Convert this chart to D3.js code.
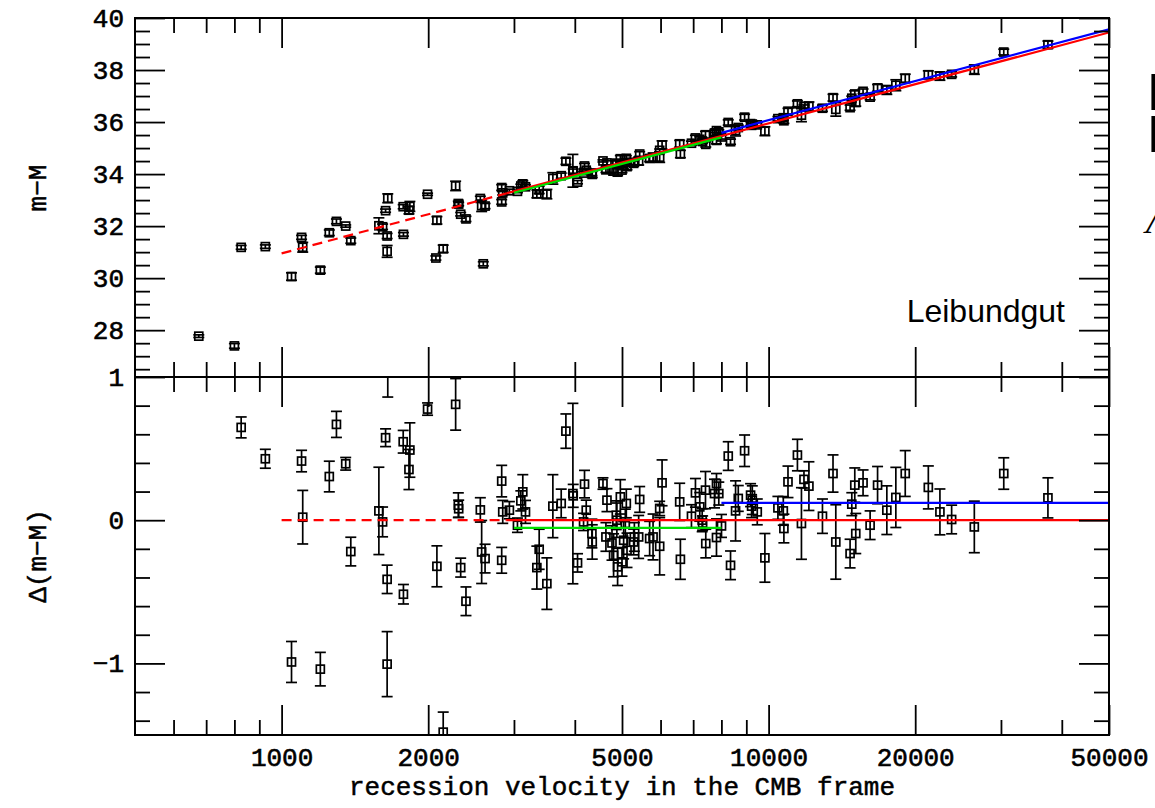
<!DOCTYPE html>
<html>
<head>
<meta charset="utf-8">
<script src="https://cdn.jsdelivr.net/npm/d3@7"></script>
<style>
body { margin: 0; background: #fff; }
</style>
</head>
<body>
<svg id="chart"></svg>
<script>
// recession velocity of each supernova (CMB frame)
var velocity = [
  676, 800, 826, 926, 1048, 1099, 1105, 1201, 1253, 1296,
  1354, 1387, 1584, 1612, 1635, 1647, 1647, 1652, 1777, 1779,
  1826, 1834, 1994, 2074, 2084, 2147, 2277, 2306, 2310, 2332,
  2391, 2559, 2575, 2595, 2617, 2831, 2831, 2845, 2936, 3050,
  3099, 3128, 3168, 3343, 3380, 3505, 3606, 3751, 3835, 3964,
  3970, 4052, 4169, 4188, 4222, 4337, 4344, 4570, 4634, 4657,
  4769, 4805, 4867, 4880, 4897, 4961, 5000, 5039, 5079, 5103,
  5120, 5283, 5301, 5410, 5436, 5698, 5791, 5975, 5975, 6043,
  6568, 6590, 6944, 7076, 7222, 7305, 7320, 7420, 7430, 7743,
  7816, 7816, 7902, 8004, 8263, 8353, 8554, 8664, 8927, 9183,
  9227, 9258, 9478, 9826, 10450, 10720, 10750, 10960, 11460, 11680,
  11820, 12100, 12900, 13560, 13740, 14700, 14820, 15030, 15100, 15630,
  16160, 16740, 17490, 18250, 19080, 21280, 22480, 23760, 26450, 30400,
  37460
];
// residual from the red hubble line, delta(m-M)
var residual = [
  -2.33, -3.07, 0.648, 0.429, -0.99, 0.413, 0.021, -1.04, 0.305, 0.669,
  0.394, -0.219, 0.065, -0.012, 0.576, -0.413, -1.005, 1.03, 0.548, -0.517,
  0.354, 0.49, 0.776, -1.76, -0.322, -1.48, 0.809, 0.105, 0.08, -0.331,
  -0.566, 0.072, -0.222, -2.47, -0.268, 0.273, -0.28, 0.058, 0.07, -0.035,
  0.135, 0.198, 0.058, -0.331, -0.203, -0.443, 0.098, 0.117, 0.622, 0.186,
  0.17, -0.298, -0.012, 0.252, 0.07, -0.093, -0.152, 0.256, -0.117, 0.14,
  -0.159, -0.245, 0.035, 0.0, -0.326, 0.163, -0.291, -0.14, -0.023, 0.117,
  -0.21, -0.152, -0.117, -0.117, 0.145, -0.128, -0.117, -0.182, 0.082, 0.261,
  0.128, -0.273, 0.028, 0.191, 0.093, 0.0, -0.02, 0.21, -0.163, 0.186,
  0.256, -0.121, 0.186, -0.04, 0.448, -0.315, 0.065, 0.152, 0.485, 0.175,
  0.098, 0.14, 0.058, -0.263, 0.086, 0.065, -0.058, 0.268, 0.455, -0.023,
  0.285, 0.238, 0.028, 0.326, -0.152, -0.233, 0.112, 0.245, -0.093, 0.261,
  -0.035, 0.245, 0.07, 0.159, 0.326, 0.229, 0.058, 0.005, -0.047, 0.326,
  0.156
];
// one sigma error in magnitudes
var residualErr = [
  0.05, 0.09, 0.073, 0.066, 0.143, 0.075, 0.187, 0.117, 0.107, 0.091,
  0.044, 0.10, 0.305, 0.104, 0.062, 0.099, 0.227, 0.17, 0.079, 0.068,
  0.14, 0.19, 0.043, 0.08, 0.143, 0.14, 0.18, 0.086, 0.06, 0.066,
  0.10, 0.085, 0.22, 0.08, 0.10, 0.11, 0.09, 0.08, 0.06, 0.05,
  0.07, 0.12, 0.08, 0.15, 0.14, 0.18, 0.22, 0.10, 0.12, 0.63,
  0.08, 0.064, 0.06, 0.096, 0.07, 0.10, 0.12, 0.04, 0.10, 0.08,
  0.12, 0.15, 0.10, 0.12, 0.13, 0.12, 0.10, 0.13, 0.10, 0.10,
  0.12, 0.09, 0.10, 0.15, 0.09, 0.12, 0.16, 0.20, 0.05, 0.16,
  0.13, 0.14, 0.08, 0.10, 0.10, 0.08, 0.05, 0.13, 0.10, 0.10,
  0.07, 0.13, 0.08, 0.08, 0.10, 0.10, 0.21, 0.09, 0.11, 0.08,
  0.08, 0.10, 0.09, 0.17, 0.08, 0.10, 0.10, 0.11, 0.11, 0.25,
  0.06, 0.17, 0.12, 0.13, 0.26, 0.10, 0.08, 0.12, 0.14, 0.09,
  0.10, 0.13, 0.17, 0.21, 0.16, 0.15, 0.16, 0.10, 0.18, 0.11,
  0.14
];

// zero point of the hubble line m-M = 5 log v + zeroPoint
var zeroPoint = 15.95;
// fitted segments: start / end velocity and offset from the red line
var fitStart = [1000, 2900, 3000, 8000];
var fitEnd = [2900, 50000, 8000, 50000];
var fitOffset = [0, 0, -0.054, 0.121];
var fitName = ["redDash", "red", "green", "blue"];

// axis tick values
var xMajor = [1000, 2000, 5000, 10000, 20000, 50000];
var xMinor = [600, 700, 800, 900, 3000, 4000, 6000, 7000, 8000, 9000, 30000, 40000];
var topMajor = [28, 30, 32, 34, 36, 38, 40];
var topMinor = d3.range(26.5, 40, 0.5).filter(d => d % 2 !== 0);
var botMajor = [1, 0, -1];
var botMinor = [0.8, 0.6, 0.4, 0.2, -0.2, -0.4, -0.6, -0.8, -1.2, -1.4];

var width = 1155;
var height = 808;
// panel edges (note: "top" is reserved on window, so use plot* names)
var plotLeft = 135, plotRight = 1109, plotTop = 18, plotMid = 377, plotBottom = 735;
var monoFont = "'Liberation Mono', 'DejaVu Sans Mono', monospace";

var lineStyle = {
  redDash: { color: "#ff0000", dash: "10,6" },
  red: { color: "#ff0000", dash: null },
  green: { color: "#00e000", dash: null },
  blue: { color: "#0000ff", dash: null }
};

var svg = d3.select("#chart").attr("width", width).attr("height", height);

var x = d3.scaleLog().domain([500, 50000]).range([plotLeft, plotRight]);
var yTop = d3.scaleLinear().domain([26.2, 40]).range([plotMid, plotTop]);
var yBot = d3.scaleLinear().domain([-1.5, 1]).range([plotBottom, plotMid]);

// build the point table for both panels
var points = velocity.map(function (v, i) {
  return {
    v: v,
    res: residual[i],
    err: residualErr[i],
    mu: 5 * Math.log10(v) + zeroPoint + residual[i]
  };
});

// clip paths so that points stay inside each panel
var defs = svg.append("defs");
defs.append("clipPath").attr("id", "clipTop")
  .append("rect").attr("x", plotLeft).attr("y", plotTop)
  .attr("width", plotRight - plotLeft).attr("height", plotMid - plotTop);
defs.append("clipPath").attr("id", "clipBot")
  .append("rect").attr("x", plotLeft).attr("y", plotMid)
  .attr("width", plotRight - plotLeft).attr("height", plotBottom - plotMid);

function drawPoints(g, yScale, key) {
  var pt = g.selectAll(".pt")
    .data(points)
    .enter()
    .append("g")
    .classed("pt", true)
    .attr("stroke", "black")
    .attr("stroke-width", 1.7)
    .attr("fill", "none");
  // error bar
  pt.append("line")
    .attr("x1", d => x(d.v)).attr("x2", d => x(d.v))
    .attr("y1", d => yScale(d[key] - d.err)).attr("y2", d => yScale(d[key] + d.err));
  // caps
  pt.append("line")
    .attr("x1", d => x(d.v) - 5.5).attr("x2", d => x(d.v) + 5.5)
    .attr("y1", d => yScale(d[key] - d.err)).attr("y2", d => yScale(d[key] - d.err));
  pt.append("line")
    .attr("x1", d => x(d.v) - 5.5).attr("x2", d => x(d.v) + 5.5)
    .attr("y1", d => yScale(d[key] + d.err)).attr("y2", d => yScale(d[key] + d.err));
  // open square marker
  pt.append("rect")
    .attr("x", d => x(d.v) - 4).attr("y", d => yScale(d[key]) - 4)
    .attr("width", 8).attr("height", 8)
    .attr("fill", "none");
}

function drawFits(g, yScale, isTop) {
  fitName.forEach(function (name, i) {
    var ends = [fitStart[i], fitEnd[i]];
    var line = d3.line()
      .x(d => x(d))
      .y(d => yScale(isTop ? 5 * Math.log10(d) + zeroPoint + fitOffset[i] : fitOffset[i]));
    g.append("path")
      .attr("d", line(ends))
      .attr("fill", "none")
      .attr("stroke", lineStyle[name].color)
      .attr("stroke-width", 2.2)
      .attr("stroke-dasharray", lineStyle[name].dash);
  });
}

var topPanel = svg.append("g").attr("clip-path", "url(#clipTop)");
drawPoints(topPanel, yTop, "mu");
drawFits(topPanel, yTop, true);

var botPanel = svg.append("g").attr("clip-path", "url(#clipBot)");
drawPoints(botPanel, yBot, "res");
drawFits(botPanel, yBot, false);

// helper for inward ticks
function ticks(axis, values, size, tx, ty, fmt) {
  var g = svg.append("g")
    .attr("transform", "translate(" + tx + "," + ty + ")")
    .call(axis.tickValues(values).tickSizeInner(-size).tickSizeOuter(0)
      .tickPadding(11).tickFormat(fmt || ""));
  g.select(".domain").remove();
  g.selectAll(".tick line").attr("stroke", "black").attr("stroke-width", 1.8);
  g.selectAll("text")
    .attr("font-family", monoFont).attr("font-size", 26).attr("fill", "black")
    .attr("stroke", "black").attr("stroke-width", 0.6);
  return g;
}

var majorLen = 30, minorLen = 15;
// x ticks on every horizontal edge
ticks(d3.axisTop(x), xMajor, majorLen, 0, plotTop);
ticks(d3.axisTop(x), xMinor, minorLen, 0, plotTop);
ticks(d3.axisBottom(x), xMajor, majorLen, 0, plotMid);
ticks(d3.axisBottom(x), xMinor, minorLen, 0, plotMid);
ticks(d3.axisTop(x), xMajor, majorLen, 0, plotMid);
ticks(d3.axisTop(x), xMinor, minorLen, 0, plotMid);
ticks(d3.axisBottom(x), xMajor, majorLen, 0, plotBottom, d => d)
  .selectAll("text").attr("dy", "0.78em");
ticks(d3.axisBottom(x), xMinor, minorLen, 0, plotBottom);

var minusFmt = d => (d < 0 ? "\u2212" + Math.abs(d) : "" + d);
// y ticks left and right
ticks(d3.axisLeft(yTop), topMajor, majorLen, plotLeft, 0, minusFmt);
ticks(d3.axisLeft(yTop), topMinor, minorLen, plotLeft, 0);
ticks(d3.axisRight(yTop), topMajor, majorLen, plotRight, 0);
ticks(d3.axisRight(yTop), topMinor, minorLen, plotRight, 0);
ticks(d3.axisLeft(yBot), botMajor, majorLen, plotLeft, 0, minusFmt);
ticks(d3.axisLeft(yBot), botMinor, minorLen, plotLeft, 0);
ticks(d3.axisRight(yBot), botMajor, majorLen, plotRight, 0);
ticks(d3.axisRight(yBot), botMinor, minorLen, plotRight, 0);

// frame and panel divider
svg.append("rect")
  .attr("x", plotLeft).attr("y", plotTop)
  .attr("width", plotRight - plotLeft).attr("height", plotBottom - plotTop)
  .attr("fill", "none").attr("stroke", "black").attr("stroke-width", 2);
svg.append("line")
  .attr("x1", plotLeft).attr("x2", plotRight).attr("y1", plotMid).attr("y2", plotMid)
  .attr("stroke", "black").attr("stroke-width", 2);

// axis titles
svg.append("text")
  .attr("transform", "translate(46,188) rotate(-90)")
  .attr("text-anchor", "middle")
  .attr("font-family", monoFont).attr("font-size", 26)
  .attr("stroke", "black").attr("stroke-width", 0.5)
  .text("m\u2212M");
svg.append("text")
  .attr("transform", "translate(46,556) rotate(-90)")
  .attr("text-anchor", "middle")
  .attr("font-family", monoFont).attr("font-size", 26)
  .attr("stroke", "black").attr("stroke-width", 0.5)
  .text("\u0394(m\u2212M)");
svg.append("text")
  .attr("x", (plotLeft + plotRight) / 2).attr("y", 795)
  .attr("text-anchor", "middle")
  .attr("font-family", monoFont).attr("font-size", 26)
  .attr("stroke", "black").attr("stroke-width", 0.5)
  .text("recession velocity in the CMB frame");

// sample label
svg.append("text")
  .attr("x", 1065).attr("y", 322)
  .attr("text-anchor", "end")
  .attr("font-family", "'Liberation Sans', Arial, sans-serif")
  .attr("font-size", 32)
  .text("Leibundgut");

// slide text cut off by the right edge, kept as one text block
var edgeText = svg.append("text")
  .attr("font-family", "'Liberation Sans', sans-serif").attr("font-weight", "bold")
  .attr("font-size", 51);
edgeText.append("tspan").attr("x", 1148).attr("y", 110).text("E");
edgeText.append("tspan").attr("x", 1148).attr("y", 152).text("E");
edgeText.append("tspan").attr("x", 1146).attr("y", 233)
  .attr("font-family", "'Liberation Serif', serif").attr("font-weight", "normal")
  .attr("font-style", "italic").attr("font-size", 36).text("\u039b");
</script>
</body>
</html>
